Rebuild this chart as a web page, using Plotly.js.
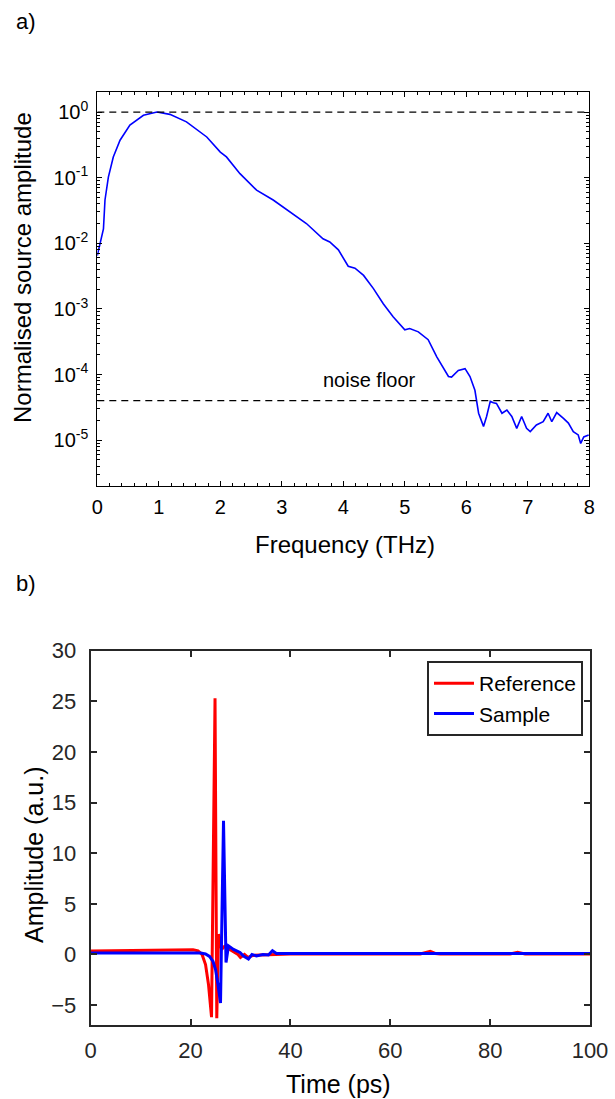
<!DOCTYPE html>
<html>
<head>
<meta charset="utf-8">
<script src="https://cdn.plot.ly/plotly-3.0.1.min.js"></script>
<style>html,body{margin:0;padding:0;background:#fff;}#chart{width:615px;height:1099px;}</style>
</head>
<body>
<div id="chart"></div>
<script>
// ---- Panel a) spectrum ----
const freqTHz = [0.00,0.04,0.07,0.10,0.125,0.18,0.26,0.37,0.53,0.75,0.97,1.18,1.45,1.78,2.00,2.10,2.32,2.59,2.86,3.13,3.40,3.67,3.78,3.92,4.08,4.19,4.33,4.49,4.65,4.81,5.00,5.08,5.22,5.38,5.52,5.71,5.76,5.87,5.98,6.06,6.14,6.20,6.28,6.33,6.39,6.44,6.49,6.58,6.66,6.74,6.82,6.90,6.98,7.04,7.14,7.25,7.33,7.39,7.47,7.58,7.66,7.74,7.82,7.86,7.91,7.99];
const sourceAmp = [0.0065,0.0095,0.0126,0.0166,0.0457,0.102,0.207,0.372,0.631,0.891,1.0,0.923,0.708,0.417,0.245,0.207,0.115,0.0646,0.0457,0.0302,0.0200,0.0117,0.0105,0.00794,0.00447,0.00417,0.00324,0.00204,0.00120,0.000759,0.000479,0.000501,0.000447,0.000339,0.000186,0.0000933,0.0000912,0.000115,0.000123,0.0000933,0.0000575,0.0000257,0.0000162,0.0000229,0.0000389,0.0000372,0.0000363,0.0000257,0.0000288,0.0000229,0.0000151,0.0000229,0.0000151,0.0000135,0.0000170,0.0000191,0.0000257,0.0000191,0.0000263,0.0000214,0.0000182,0.0000135,0.0000120,0.0000089,0.0000112,0.0000120];
const peakLevel = 1;
const noiseFloor = 4e-5;
const freqRange = [0, 8];
const logTickVals = [1, 0.1, 0.01, 0.001, 0.0001, 0.00001];
const logTickText = ['10<sup>0</sup>','10<sup>-1</sup>','10<sup>-2</sup>','10<sup>-3</sup>','10<sup>-4</sup>','10<sup>-5</sup>'];

// ---- Panel b) time domain ----
const timeRef = [0,5,10,15,18,20.5,21.5,22.3,23.0,23.6,24.2,24.9,25.25,25.6,25.9,26.2,26.8,27.5,28.5,29.5,30.0,30.8,31.5,32.5,34,36,40,50,60,66,68,69,70,84,85.5,87,100];
const ampRef = [0.35,0.36,0.38,0.40,0.45,0.45,0.35,0.0,-1.0,-3.0,-6.2,25.3,-6.3,2.0,1.5,0.5,0.8,0.6,0.3,0.0,-0.3,0.0,-0.3,-0.1,-0.05,0.0,0.05,0.05,0.05,0.05,0.3,0.1,0.05,0.05,0.2,0.05,0.05];
const timeSam = [0,10,20,22,23,23.8,24.5,25.0,25.5,26.0,26.6,27.1,27.6,28.6,29.9,30.6,31.6,32.3,33.2,34.5,35.6,36.4,37.2,40,50,60,70,80,90,100];
const ampSam = [0.15,0.15,0.2,0.13,0.05,-0.2,-0.7,-1.5,-3.0,-4.8,13.2,-0.8,0.85,0.5,0.2,-0.15,-0.45,0.0,-0.15,0.0,-0.05,0.36,0.1,0.1,0.1,0.1,0.1,0.1,0.1,0.1];

const W = 615, H = 1099;
const px = v => v / W;
const py = v => 1 - v / H;
const FONT = 'Liberation Sans, Arial, sans-serif';
const dark = '#262626';

const minorLog = [];
for (let e = -6; e <= 0; e++) for (let m = 2; m <= 9; m++) minorLog.push(m * Math.pow(10, e));

const traces = [
  {x: freqTHz, y: sourceAmp, xaxis: 'x', yaxis: 'y', type: 'scatter', mode: 'lines',
   line: {color: '#0000ff', width: 1.6}, showlegend: false},
  {x: freqRange, y: [peakLevel, peakLevel], xaxis: 'x', yaxis: 'y', mode: 'lines',
   line: {color: '#000', width: 1.2, dash: '7px,5px'}, showlegend: false},
  {x: freqRange, y: [noiseFloor, noiseFloor], xaxis: 'x', yaxis: 'y', mode: 'lines',
   line: {color: '#000', width: 1.2, dash: '7px,5px'}, showlegend: false},
  {x: timeRef, y: ampRef, xaxis: 'x2', yaxis: 'y2', mode: 'lines', name: 'Reference',
   line: {color: '#ff0000', width: 3}},
  {x: timeSam, y: ampSam, xaxis: 'x2', yaxis: 'y2', mode: 'lines', name: 'Sample',
   line: {color: '#0000ff', width: 3}}
];

const layout = {
  width: W, height: H,
  margin: {l: 0, r: 0, t: 0, b: 0},
  paper_bgcolor: '#fff', plot_bgcolor: '#fff',
  font: {family: FONT, color: '#000'},
  showlegend: true,
  xaxis: {
    domain: [px(97.3), px(589.3)], anchor: 'y', range: freqRange,
    dtick: 1, ticks: 'inside', ticklen: 5, tickcolor: '#000', tickwidth: 1,
    showline: true, linecolor: '#000', linewidth: 1, mirror: 'allticks',
    showgrid: false, zeroline: false, automargin: false, ticklabelstandoff: 3,
    tickfont: {size: 20, color: '#000'},
    minor: {dtick: 0.2, ticks: 'inside', ticklen: 3, tickcolor: '#000', showgrid: false}
  },
  yaxis: {
    domain: [py(486), py(92.3)], anchor: 'x', type: 'log',
    range: [Math.log10(2e-6), Math.log10(2)],
    tickmode: 'array', tickvals: logTickVals, ticktext: logTickText,
    ticks: 'inside', ticklen: 5, tickcolor: '#000',
    showline: true, linecolor: '#000', linewidth: 1, mirror: 'allticks',
    showgrid: false, zeroline: false, automargin: false, ticklabelstandoff: 4,
    tickfont: {size: 20, color: '#000'},
    minor: {tickmode: 'array', tickvals: minorLog, ticks: 'inside', ticklen: 3, tickcolor: '#000', showgrid: false}
  },
  xaxis2: {
    domain: [px(90.7), px(590)], anchor: 'y2', range: [0, 100],
    dtick: 20, ticks: 'inside', ticklen: 6, tickwidth: 2, tickcolor: dark,
    showline: true, linecolor: dark, linewidth: 2, mirror: 'ticks',
    showgrid: false, zeroline: false, automargin: false, ticklabelstandoff: 4,
    tickfont: {size: 22, color: dark}
  },
  yaxis2: {
    domain: [py(1025.3), py(650.7)], anchor: 'x2', range: [-7, 30],
    tickmode: 'array', tickvals: [-5,0,5,10,15,20,25,30],
    ticks: 'inside', ticklen: 6, tickwidth: 2, tickcolor: dark,
    showline: true, linecolor: dark, linewidth: 2, mirror: 'ticks',
    showgrid: false, zeroline: false, automargin: false, ticklabelstandoff: 8,
    tickfont: {size: 22, color: dark}
  },
  legend: {
    x: px(583), y: py(661), xanchor: 'right', yanchor: 'top',
    bgcolor: '#fff', bordercolor: dark, borderwidth: 2,
    font: {size: 21, color: '#000', family: FONT},
    tracegroupgap: 0, itemwidth: 40
  },
  annotations: [
    {text: 'a)', xref: 'paper', yref: 'paper', x: px(26), y: py(22), showarrow: false,
     font: {size: 22, color: '#000'}, xanchor: 'center', yanchor: 'middle'},
    {text: 'b)', xref: 'paper', yref: 'paper', x: px(26), y: py(583), showarrow: false,
     font: {size: 22, color: '#000'}, xanchor: 'center', yanchor: 'middle'},
    {text: 'Normalised source amplitude', xref: 'paper', yref: 'paper', x: px(23), y: py(268),
     textangle: -90, showarrow: false, font: {size: 24, color: '#000'}, xanchor: 'center', yanchor: 'middle'},
    {text: 'Frequency (THz)', xref: 'paper', yref: 'paper', x: px(345), y: py(544),
     showarrow: false, font: {size: 24, color: '#000'}, xanchor: 'center', yanchor: 'middle'},
    {text: 'noise floor', xref: 'x', yref: 'y', x: 4.42, y: -4.08,
     showarrow: false, font: {size: 20, color: '#000'}, xanchor: 'center', yanchor: 'middle'},
    {text: 'Amplitude (a.u.)', xref: 'paper', yref: 'paper', x: px(34), y: py(855),
     textangle: -90, showarrow: false, font: {size: 25, color: '#000'}, xanchor: 'center', yanchor: 'middle'},
    {text: 'Time (ps)', xref: 'paper', yref: 'paper', x: px(338), y: py(1084),
     showarrow: false, font: {size: 25, color: '#000'}, xanchor: 'center', yanchor: 'middle'}
  ]
};

Plotly.newPlot('chart', traces, layout, {displayModeBar: false, staticPlot: true});
</script>
</body>
</html>
